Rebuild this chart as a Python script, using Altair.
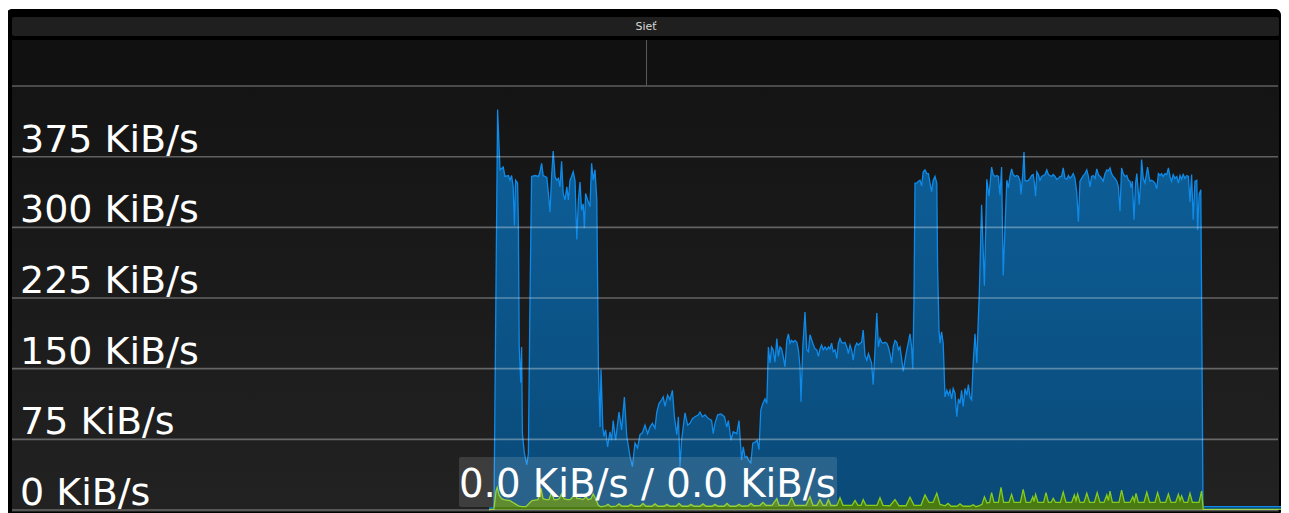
import altair as alt
import pandas as pd

# ---- data (time in seconds, rate in KiB/s) ----
blue_t = [-0.25, 1.0, 1.9, 2.5, 3.3, 3.75, 4.6, 5.0, 5.4, 5.8, 6.1, 6.4, 6.9, 7.1, 7.3, 7.7, 7.9, 8.1, 8.6, 9.2, 9.6,
          10.0, 10.4, 11.25, 12.1, 12.5, 12.9, 13.3, 14.2, 14.6, 15.0, 15.4, 15.8, 16.25, 16.7, 17.1, 17.5, 17.9, 18.3,
          18.75, 19.2, 19.6, 20.0, 20.4, 20.8, 21.25, 21.7, 22.1, 22.5, 22.9, 23.3, 23.6, 23.9, 24.4, 25.0, 25.4, 25.8,
          26.25, 26.7, 27.1, 27.5, 27.75, 28.2, 28.5, 28.9, 29.4, 30.0, 30.4, 30.8, 31.4, 32.25, 32.9, 33.6, 34.2, 35.0,
          35.6, 36.25, 36.9, 37.5, 38.1, 38.75, 39.4, 40.0, 40.6, 41.25, 41.7, 42.25, 42.9, 43.3, 43.75, 44.4, 45.0,
          45.6, 46.1, 46.7, 47.1, 47.5, 47.9, 48.3, 48.75, 49.4, 50.0, 50.6, 51.25, 52.1, 52.5, 53.1, 53.75, 54.6, 55.4,
          55.8, 56.25, 56.9, 57.75, 58.6, 59.2, 59.6, 60.25, 60.8, 61.7, 62.25, 62.9, 63.3, 63.75, 64.2, 64.6, 65.2,
          65.7, 66.25, 66.8, 67.25, 67.7, 68.2, 68.75, 69.2, 69.6, 70.0, 70.4, 70.8, 71.25, 71.7, 72.1, 72.5, 72.9,
          73.3, 73.75, 74.2, 74.6, 75.0, 75.4, 75.8, 76.25, 76.7, 77.1, 77.5, 77.75, 78.2, 78.75, 79.2, 79.6, 80.0,
          80.7, 81.25, 81.7, 82.1, 82.5, 82.9, 83.3, 83.75, 84.2, 84.6, 85.0, 85.4, 85.8, 86.25, 86.7, 87.1, 87.5,
          87.9, 88.3, 88.75, 89.2, 89.6, 90.0, 90.4, 90.8, 91.25, 91.7, 92.1, 92.5, 92.9, 93.3, 93.75, 94.2, 94.6,
          95.0, 95.4, 95.8, 96.25, 96.7, 97.1, 97.5, 97.9, 98.3, 98.75, 99.2, 99.6, 100.0, 100.4, 100.8, 101.25,
          101.7, 102.1, 102.5, 102.9, 103.3, 103.75, 104.2, 104.6, 105.0, 105.4, 105.7, 106.0, 106.25, 106.7, 107.1,
          107.5, 107.9, 108.3, 108.75, 109.2, 109.6, 110.0, 110.4, 110.8, 111.25, 111.7, 111.9, 112.25, 112.5, 112.9,
          113.3, 113.75, 114.2, 114.6, 115.0, 115.4, 115.8, 116.25, 116.7, 117.1, 117.5, 117.9, 118.3, 118.75, 119.2,
          119.6, 120.0, 120.4, 120.8, 121.25, 121.7, 122.1, 122.3, 122.9, 123.6, 124.2, 124.75, 125.4, 125.8, 126.25,
          126.7, 127.1, 127.5, 127.9, 128.3, 129.2, 129.6, 130.0, 130.4, 130.8, 131.25, 131.7, 132.1, 132.5, 132.75,
          133.2, 133.5, 133.75, 134.2, 134.6, 135.0, 135.4, 135.8, 136.1, 136.4, 136.7, 137.1, 137.5, 137.9, 138.3,
          138.75, 139.2, 139.6, 140.0, 140.4, 140.8, 141.25, 141.7, 142.1, 142.5, 142.9, 143.3, 143.75, 144.2, 144.6,
          145.0, 145.4, 145.8, 146.25, 146.7, 147.1, 147.5, 147.9, 148.3, 148.75, 149.2, 149.6, 150.0, 150.4, 150.8,
          151.25, 151.7, 152.1, 152.5, 152.9, 153.3, 153.75, 154.2, 154.6, 155.0, 155.4, 155.8, 156.25, 156.7, 157.1,
          157.5, 157.9, 158.3, 158.75, 159.2, 159.6, 160.0, 160.25, 160.6, 161.0, 161.4, 161.7, 162.1, 162.3, 162.7,
          162.9, 163.3, 163.75, 164.2, 164.4, 164.75, 165.0, 165.4, 165.8, 166.25, 166.7, 167.1, 167.5, 167.9, 168.3,
          168.75, 169.2, 169.6, 170.0, 170.4, 170.8, 171.25, 171.7, 172.1, 172.5, 172.9, 173.3, 173.75, 174.2, 174.6,
          175.0, 175.4, 175.8, 176.25, 176.7, 176.9, 177.3, 177.7, 177.9, 178.25, 198.25]
blue_v = [2, 2.5, 425, 361, 364, 354, 355, 350, 355, 343, 302, 350, 347, 301, 173, 135, 173, 81, 60, 48, 60,
          223, 354, 355, 354, 359, 368, 355, 353, 336, 316, 354, 381, 354, 350, 352, 343, 370, 336,
          329, 343, 329, 350, 354, 359, 350, 287, 329, 348, 318, 325, 299, 336, 329, 322, 368, 350,
          361, 329, 152, 88, 149, 88, 78, 85, 67, 83, 74, 95, 74, 104, 85, 120, 78, 57,
          46, 71, 66, 80, 82, 90, 81, 88, 92, 87, 104, 113, 117, 120, 110, 122, 117,
          127, 99, 80, 99, 46, 74, 88, 103, 90, 92, 97, 99, 101, 104, 99, 101, 97, 95,
          81, 92, 101, 102, 99, 88, 95, 74, 83, 81, 95, 53, 67, 56, 57, 53, 50,
          71, 72, 74, 64, 106, 113, 118, 113, 173, 156, 173, 170, 157, 182, 163, 173, 171,
          163, 152, 180, 187, 177, 180, 178, 180, 178, 170, 152, 115, 173, 210, 170, 168, 186,
          177, 171, 170, 163, 171, 175, 170, 173, 170, 173, 171, 177, 168, 170, 161, 177, 182,
          178, 177, 178, 173, 166, 175, 170, 159, 173, 177, 175, 177, 178, 191, 164, 159, 166,
          161, 156, 133, 170, 209, 173, 182, 178, 177, 178, 177, 173, 166, 156, 173, 180,
          178, 170, 173, 161, 147, 159, 170, 178, 187, 173, 150, 223, 347, 347, 349,
          350, 344, 359, 361, 357, 357, 347, 338, 350, 354, 347, 258, 191, 177, 189,
          177, 120, 127, 122, 127, 118, 129, 124, 99, 118, 113, 127, 110, 129, 122,
          133, 120, 117, 156, 187, 156, 205, 226, 324, 238, 351, 333, 364, 356, 354,
          355, 354, 334, 364, 249, 350, 342, 354, 362, 356, 354, 355, 354, 349, 335,
          357, 380, 350, 349, 350, 352, 355, 356, 347, 333, 359, 356, 350, 354, 355,
          356, 361, 356, 355, 354, 356, 354, 351, 352, 354, 354, 363, 352, 351, 355,
          352, 354, 357, 352, 336, 306, 349, 352, 355, 357, 361, 354, 343, 354, 355,
          352, 362, 356, 354, 352, 349, 357, 361, 360, 363, 357, 354, 352, 349, 343,
          317, 363, 357, 354, 355, 350, 349, 342, 349, 308, 347, 357, 336, 324, 350,
          372, 352, 347, 359, 364, 354, 349, 350, 349, 347, 341, 357, 355, 357, 354,
          357, 356, 363, 354, 349, 356, 352, 354, 347, 355, 351, 356, 352, 355, 354,
          327, 356, 308, 349, 350, 297, 335, 340, 223, 3.5, 3.5]

green_t = [-0.25, 1.0, 1.5, 1.8, 2.25, 2.9, 3.5, 4.25, 5.0, 5.75, 6.5, 7.25, 8.0, 9.0, 9.75, 10.5, 11.25, 12.0,
           12.75, 13.25, 14.0, 14.75, 15.4, 16.0, 16.75, 17.25, 17.9, 18.5, 19.25, 20.0, 20.5, 21.25, 21.75, 22.5,
           23.25, 24.0, 24.5, 25.25, 25.8, 26.4, 27.1, 27.75, 28.75, 29.5, 30.25, 31.5, 32.25, 33.0, 34.5, 35.25,
           36.0, 37.5, 38.25, 39.0, 40.5, 41.25, 42.0, 43.5, 44.25, 45.0, 46.5, 47.25, 48.0, 49.5, 50.25, 51.0,
           52.5, 53.25, 54.0, 55.5, 56.25, 57.0, 58.5, 59.25, 60.0, 61.5, 62.25, 63.0, 64.5, 65.25, 66.0, 67.5,
           68.25, 69.0, 70.5, 71.7, 72.25, 74.5, 75.4, 76.25, 79.0, 80.0, 80.75, 81.75, 82.5, 83.25, 84.0, 84.6,
           85.25, 86.75, 87.5, 88.25, 90.5, 91.25, 92.0, 92.75, 93.3, 94.0, 96.75, 97.5, 98.25, 100.0, 101.25,
           102.25, 104.0, 105.0, 106.0, 107.75, 108.75, 109.75, 110.75, 111.7, 112.5, 113.75, 114.5, 115.25,
           116.75, 117.5, 118.25, 120.0, 120.8, 121.5, 122.5, 123.0, 123.6, 124.25, 124.9, 125.4, 126.0, 127.1,
           127.75, 128.4, 129.75, 130.4, 131.0, 132.6, 133.3, 134.0, 135.1, 135.7, 136.0, 136.4, 137.0, 138.4,
           139.0, 139.6, 140.25, 140.8, 141.4, 142.6, 143.3, 144.0, 145.4, 146.1, 146.5, 146.9, 147.5, 148.5,
           149.2, 149.9, 151.1, 151.8, 152.5, 153.5, 154.2, 154.6, 155.0, 155.6, 157.25, 157.9, 158.6, 160.0,
           160.7, 161.1, 161.5, 162.1, 163.5, 164.2, 164.9, 166.25, 166.9, 167.6, 168.9, 169.6, 170.25, 171.4,
           172.1, 172.5, 172.9, 173.5, 174.4, 175.0, 175.6, 177.25, 177.9, 178.3, 198.25]
green_v = [0.5, 1, 20, 24, 16, 12, 11, 10.5, 10, 8, 6, 4, 3.5, 3.5, 7, 10, 10.5, 11,
           23, 12, 11, 11, 19, 11, 11, 12, 17, 12, 11, 11, 13, 19, 12, 12,
           11, 14, 11, 12, 17, 12, 5, 3.5, 4, 6, 3.5, 4, 6.5, 4, 4, 6,
           4, 4, 7, 4, 4, 6.5, 4, 4, 6, 4, 4, 7, 4, 4, 6, 4,
           4, 6.5, 4, 4, 6, 4, 4, 7, 4, 4, 6, 4, 4.5, 7, 4.5, 5,
           8, 5, 5, 12, 5, 5, 13, 5, 5, 14, 5, 5, 11, 5, 5, 11,
           5, 5, 13, 5, 5, 10, 5, 5, 11, 5, 5, 13, 5, 4.5, 11,
           4.5, 4.5, 13.5, 5, 5, 16, 8, 8, 17.7, 6, 4.5, 7, 4,
           4, 6.5, 4, 4, 5.5, 3.5, 5, 6, 14, 7.5, 8, 18.4, 8, 8,
           24, 8, 8, 16.6, 8, 8, 22, 8, 8, 14, 9, 16.6, 8, 8,
           18.4, 8, 8, 12.4, 8, 8, 19, 8, 8, 16, 10, 17, 8, 8,
           17.7, 8, 8, 18.4, 8, 8, 16, 10, 20, 8, 8, 21, 8, 8,
           14, 9, 17.7, 8, 8, 18.8, 8, 8, 18.4, 8, 8, 17, 8, 8,
           16.6, 10, 15, 8, 8, 17.7, 8, 8, 20, 0.7, 0.7]

grid_values = [0, 75, 150, 225, 300, 375, 450]
label_values = [0, 75, 150, 225, 300, 375]
label_texts = ["0 KiB/s", "75 KiB/s", "150 KiB/s", "225 KiB/s", "300 KiB/s", "375 KiB/s"]
title_text = "Sieť"
overlay_text = "0.0 KiB/s / 0.0 KiB/s"

blue = pd.DataFrame({"t": blue_t, "v": blue_v})
green = pd.DataFrame({"t": green_t, "v": green_v})
grid = pd.DataFrame({"v": grid_values})
labels = pd.DataFrame({"v": label_values, "label": label_texts})
one = pd.DataFrame({"k": [0]})

W, H = 1273, 505
xs = alt.Scale(domain=[-120.5, -120.5 + W / 4.0], nice=False, zero=False)
ys = alt.Scale(domain=[-3.18, 532.8], nice=False, zero=False)
X = alt.X("t:Q", scale=xs, axis=None)
Y = alt.Y("v:Q", scale=ys, axis=None)

FONT = "DejaVu Sans"

frame = alt.Chart(one).mark_rect(color="#000000", cornerRadius=6).encode(
    x=alt.value(-2), x2=alt.value(W), y=alt.value(1), y2=alt.value(H + 4))
titlebar = alt.Chart(one).mark_rect(color="#1f1f1f", cornerRadius=2).encode(
    x=alt.value(4), x2=alt.value(W - 2), y=alt.value(9), y2=alt.value(28))
title = alt.Chart(one).mark_text(text=title_text, font=FONT, fontSize=11, color="#d8d8d8",
                                 align="center", baseline="middle").encode(
    x=alt.value(638), y=alt.value(18.5))
header = alt.Chart(one).mark_rect(color="#111111").encode(
    x=alt.value(4), x2=alt.value(W - 2), y=alt.value(32), y2=alt.value(78))
vline = alt.Chart(one).mark_rule(color="#5a5a5a", strokeWidth=1).encode(
    x=alt.value(638.5), y=alt.value(32), y2=alt.value(77))
plotbg = alt.Chart(one).mark_rect(
    color=alt.LinearGradient(gradient="linear", x1=0, x2=0, y1=0, y2=1,
                             stops=[alt.GradientStop(offset=0, color="#141414"),
                                    alt.GradientStop(offset=1, color="#222222")])).encode(
    x=alt.value(4), x2=alt.value(W - 2), y=alt.value(78), y2=alt.value(H - 1))

blue_area = alt.Chart(blue).mark_area(
    interpolate="linear", clip=True,
    color=alt.LinearGradient(gradient="linear", x1=0, x2=0, y1=0, y2=1,
                             stops=[alt.GradientStop(offset=0, color="#0d609b"),
                                    alt.GradientStop(offset=1, color="#0a4a78")])).encode(
    x=X, y=Y, y2=alt.datum(0))
blue_line = alt.Chart(blue).mark_line(color="#0f8ae8", strokeWidth=1.3, interpolate="linear",
                                      clip=True).encode(x=X, y=Y)
green_area = alt.Chart(green).mark_area(color="#4a7a12", interpolate="linear", clip=True).encode(
    x=X, y=Y, y2=alt.datum(0))
green_line = alt.Chart(green).mark_line(color="#86cc1a", strokeWidth=1.3, interpolate="linear",
                                        clip=True).encode(x=X, y=Y)

grid_rules = alt.Chart(grid).mark_rule(color="#ffffff", opacity=0.32, strokeWidth=1.6).encode(
    y=Y, x=alt.value(4), x2=alt.value(W - 3))
label_marks = alt.Chart(labels).mark_text(font=FONT, fontSize=38, color="#ffffff", align="left",
                                          baseline="alphabetic", dy=-5).encode(
    y=Y, x=alt.value(12), text="label:N")

box = alt.Chart(one).mark_rect(color="#ffffff", opacity=0.13, cornerRadius=2).encode(
    x=alt.value(451), x2=alt.value(829), y=alt.value(449), y2=alt.value(499))
box_text = alt.Chart(one).mark_text(text=overlay_text, font=FONT, fontSize=38.7, color="#ffffff",
                                    align="left", baseline="alphabetic").encode(
    x=alt.value(451), y=alt.value(489))

chart = alt.layer(frame, titlebar, title, header, vline, plotbg,
                  blue_area, blue_line, green_area, green_line,
                  grid_rules, label_marks, box, box_text).properties(
    width=W, height=H, padding=0, autosize="none", background="#ffffff"
).configure_view(stroke=None)

chart.save("out.html", embed_options={"renderer": "svg", "actions": False})
